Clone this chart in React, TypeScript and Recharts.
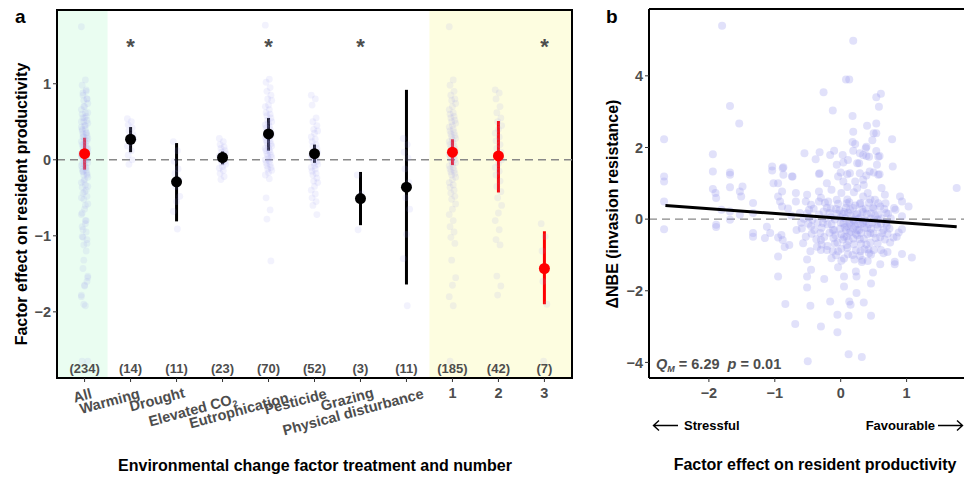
import React from "react";
import {
  ComposedChart,
  Scatter,
  XAxis,
  YAxis,
  ReferenceLine,
  ReferenceArea,
  ErrorBar,
} from "recharts";

// ---- panel a: effect of each factor on resident productivity ----
const factorNames = [
  "All",
  "Warming",
  "Drought",
  "Elevated CO2",
  "Eutrophication",
  "Pesticide",
  "Grazing",
  "Physical disturbance",
  "1",
  "2",
  "3",
];
const sampleSizes = [234, 14, 11, 23, 70, 52, 3, 11, 185, 42, 7];
const meanEffect = [0.08, 0.27, -0.29, 0.03, 0.34, 0.08, -0.51, -0.36, 0.1, 0.05, -1.43];
const ciLow = [-0.13, 0.1, -0.81, -0.06, 0.12, -0.04, -0.86, -1.64, -0.07, -0.43, -1.9];
const ciHigh = [0.29, 0.43, 0.22, 0.11, 0.55, 0.2, -0.16, 0.92, 0.27, 0.51, -0.94];
const significant = [false, true, false, false, true, false, true, false, false, false, true];

const warmingRaw = [0.54, 0.5, 0.46, 0.42, 0.38, 0.33, 0.3, 0.27, 0.22, 0.18, 0.12, 0.06, 0.0, -0.06];
const droughtRaw = [0.24, 0.12, -0.02, -0.12, -0.18, -0.26, -0.35, -0.48, -0.55, -0.68, -0.91];
const co2Raw = [
  0.28, 0.24, 0.2, 0.17, 0.15, 0.12, 0.1, 0.08, 0.06, 0.05, 0.04, 0.03, 0.02, 0.0, -0.02, -0.04,
  -0.06, -0.09, -0.11, -0.14, -0.18, -0.22, -0.26,
];
const eutroRaw = [
  1.77, 1.06, 1.02, 0.95, 0.9, 0.85, 0.8, 0.78, 0.72, 0.7, 0.66, 0.62, 0.6, 0.58, 0.55, 0.52, 0.5,
  0.48, 0.46, 0.44, 0.42, 0.4, 0.38, 0.36, 0.35, 0.33, 0.31, 0.3, 0.28, 0.26, 0.25, 0.23, 0.21, 0.2,
  0.18, 0.16, 0.15, 0.13, 0.12, 0.1, 0.08, 0.06, 0.05, 0.03, 0.01, 0.0, -0.02, -0.04, -0.06, -0.08,
  -0.1, -0.12, -0.14, -0.17, -0.2, -0.25, -0.5, -0.66, -0.78, -1.33,
];
const pesticideRaw = [
  0.85, 0.8, 0.72, 0.55, 0.5, 0.45, 0.4, 0.38, 0.35, 0.3, 0.27, 0.24, 0.2, 0.18, 0.15, 0.12, 0.1,
  0.08, 0.06, 0.05, 0.03, 0.02, 0.0, -0.02, -0.04, -0.06, -0.08, -0.1, -0.12, -0.15, -0.18, -0.2,
  -0.24, -0.28, -0.3, -0.35, -0.4, -0.45, -0.5, -0.55, -0.6, -0.72,
];
const grazingRaw = [-0.2, -0.45, -0.92];
const disturbanceRaw = [0.28, 0.2, 0.1, 0.02, -0.12, -0.3, -0.5, -0.65, -0.98, -1.3, -1.92];
const oneFactorRaw = [
  1.75, 1.05, 0.98, 0.9, 0.85, 0.8, 0.78, 0.74, 0.7, 0.66, 0.62, 0.6, 0.57, 0.55, 0.52, 0.5, 0.48,
  0.45, 0.43, 0.4, 0.38, 0.36, 0.34, 0.32, 0.3, 0.28, 0.26, 0.24, 0.22, 0.2, 0.18, 0.16, 0.14, 0.12,
  0.1, 0.09, 0.08, 0.06, 0.05, 0.04, 0.02, 0.0, -0.02, -0.04, -0.06, -0.08, -0.1, -0.12, -0.14,
  -0.16, -0.18, -0.2, -0.23, -0.26, -0.3, -0.33, -0.36, -0.4, -0.44, -0.48, -0.52, -0.58, -0.65,
  -0.72, -0.8, -0.88, -0.95, -1.02, -1.1, -1.32, -1.55, -1.65, -1.8, -1.92, -2.65,
];
const twoFactorRaw = [
  0.92, 0.88, 0.8, 0.7, 0.62, 0.55, 0.5, 0.45, 0.4, 0.35, 0.3, 0.25, 0.2, 0.15, 0.1, 0.05, 0.0,
  -0.05, -0.1, -0.15, -0.2, -0.28, -0.35, -0.42, -0.5, -0.6, -0.7, -0.8, -0.92, -1.05, -1.12, -1.53,
  -1.66, -1.78,
];
const threeFactorRaw = [-0.84, -1.01, -1.2, -1.43, -1.6, -1.9, -2.65];
const allRaw = [...oneFactorRaw, ...twoFactorRaw, ...threeFactorRaw];

// ---- panel b: factor effect vs change in invasion resistance ----
const nbeOuterPoints: [number, number][] = [
  [-1.8, 5.4], [0.19, 4.98], [0.08, 3.9], [0.13, 3.9], [-0.26, 3.54], [0.61, 3.5], [0.54, 3.4],
  [0.58, 3.14], [-1.68, 3.16], [-0.12, 3.03], [0.18, 2.88], [-1.54, 2.67], [0.4, 2.61], [0.54, 2.67],
  [0.19, 2.44], [0.5, 2.4], [0.54, 2.4], [-2.68, 2.23], [0.78, 2.23], [0.18, 2.15], [0.22, 2.1],
  [0.48, 2.2], [0.38, 1.98], [0.54, 1.9], [-1.94, 1.81], [-0.55, 1.84], [-0.32, 1.87], [-0.16, 1.79],
  [-0.1, 1.91], [0.03, 1.79], [0.19, 1.91], [0.29, 1.84], [0.39, 1.76], [0.59, 1.76], [-0.38, 1.67],
  [-0.06, 1.52], [0.04, 1.58], [0.11, 1.65], [0.28, 1.56], [0.79, 1.47], [-1.04, 1.47], [-1.04, 1.36],
  [-0.87, 1.45], [-0.87, 1.24], [-0.73, 1.19], [-1.94, 1.33], [-1.68, 1.3], [-1.68, 1.24],
  [-2.68, 1.19], [-2.68, 1.05], [-0.33, 1.26], [0.0, 1.3], [0.1, 1.25], [0.29, 1.28], [0.39, 1.22],
  [0.5, 1.3], [0.59, 1.25], [-2.68, 0.49], [-2.68, -0.28], [-1.94, 0.84], [-1.9, 0.73], [-1.89, 0.59],
  [-1.89, -0.16], [-1.89, -0.22], [-1.81, 0.26], [-1.68, 0.89], [-1.68, -0.02], [-1.68, 0.21],
  [-1.53, 0.77], [-1.49, 0.91], [-1.51, 0.63], [-1.53, 0.12], [-1.33, 0.45], [-1.33, 0.17],
  [-1.33, -0.49], [-1.33, -0.39], [-1.02, 1.0], [-0.95, 1.0], [-0.95, 0.63], [-0.92, 0.49],
  [-1.12, -0.21], [-1.07, -0.39], [-1.15, -0.53], [-0.88, 1.42], [-0.89, 0.77], [-0.89, 0.35],
  [-0.74, 1.19], [-0.68, 0.73], [-0.68, 0.49], [-0.51, 0.68], [-0.53, 0.49], [-0.48, 0.26],
  [-0.32, 1.28], [-0.33, 0.77], [-0.33, 0.49], [-0.21, 1.0], [-0.14, 0.82], [-0.19, 0.49],
  [-0.04, 1.19], [0.04, 1.05], [0.14, 1.28], [0.01, 0.73], [-0.06, 0.54], [0.09, 0.44], [0.34, 1.79],
  [0.39, 2.02], [0.25, 1.56], [0.34, 1.1], [0.25, 0.87], [0.34, 0.63], [0.41, 0.73], [0.43, 1.74],
  [0.57, 1.74], [0.55, 1.52], [0.57, 1.24], [0.44, 1.33], [0.62, 0.87], [0.67, 0.68], [0.68, 0.44],
  [0.52, 0.54], [0.9, 0.63], [0.93, 0.49], [1.03, 0.35], [0.83, 0.26], [1.76, 0.87],
  [-0.62, 0.17], [-0.48, 0.06], [-0.26, 0.21], [-0.06, 0.15], [0.14, 0.26], [0.34, 0.2], [0.52, 0.1],
  [0.72, 0.15], [0.93, 0.08], [-0.67, -0.3], [-0.53, -0.49], [-0.31, -0.39], [-0.12, -0.3],
  [0.09, -0.49], [0.25, -0.3], [0.45, -0.39], [0.65, -0.3], [0.85, -0.49], [-0.88, -0.58],
  [-0.78, -0.72], [-0.57, -0.67], [-0.36, -0.77], [-0.95, -0.51], [-0.9, -0.44], [-0.85, -0.78],
  [-0.95, -1.04], [-0.95, -1.6], [-0.51, -1.13], [-0.46, -0.9], [-0.45, -1.41], [-0.51, -1.6],
  [-0.51, -1.91], [-0.84, -2.37], [-0.46, -2.42], [-0.69, -2.93], [-0.3, -3.0], [-0.3, -0.58],
  [-0.3, -0.86], [-0.25, -1.67], [-0.14, -1.09], [-0.04, -1.34], [-0.04, -0.9], [-0.16, -2.3],
  [0.05, -1.6], [0.05, -1.88], [0.13, -2.3], [0.15, -2.39], [-0.05, -2.67], [0.12, -2.7],
  [0.24, -2.06], [0.24, -1.6], [0.23, -1.46], [0.35, -2.33], [0.46, -2.7], [0.46, -1.8], [0.49, -1.49],
  [0.33, -1.14], [0.43, -0.95], [0.5, -0.86], [0.6, -1.26], [0.65, -0.95], [0.71, -0.92],
  [0.82, -1.26], [0.82, -1.19], [0.93, -0.97], [1.08, -1.07], [0.8, -0.51], [0.88, -0.37],
  [0.93, -0.28], [0.75, -0.65], [-0.5, -3.97], [0.12, -3.77], [0.32, -3.85], [-0.05, -3.16],
];
const nbeCorePoints: [number, number][] = [
  [0.0, -0.1], [0.1, -0.2], [0.2, -0.05], [0.3, -0.15], [0.4, -0.25], [0.15, -0.35], [0.25, -0.45],
  [0.35, -0.55], [0.05, -0.5], [0.45, -0.65], [0.2, -0.7], [0.1, -0.8], [0.3, -0.9], [0.5, -0.4],
  [0.55, -0.15], [-0.1, -0.3], [-0.2, -0.15], [-0.25, -0.5], [-0.05, -0.65], [0.0, 0.05], [0.15, 0.1],
  [0.3, 0.05], [0.4, 0.15], [-0.15, 0.05], [-0.35, -0.1], [-0.4, -0.3], [0.6, -0.5], [0.7, -0.2],
  [0.62, 0.02], [0.08, 0.32], [0.22, 0.38], [0.38, 0.3], [-0.02, 0.25], [0.28, -0.3], [0.12, -0.6],
  [0.42, -0.85], [0.18, -1.0], [-0.12, -0.9], [0.32, -1.2], [0.05, -1.1], [-0.45, 0.4], [-0.3, 0.6],
  [-0.15, 0.3], [0.1, 0.55], [0.2, 0.75], [0.3, 0.45], [0.45, 0.55], [0.5, 0.3], [0.6, 0.35],
  [-0.6, -0.1], [-0.75, 0.1], [-0.8, 0.3], [-0.45, -0.2], [-0.2, -0.75], [0.1, 0.9], [0.22, 1.05],
  [0.35, 0.95], [0.05, 0.2], [0.25, 0.15], [-0.08, -0.45], [0.15, -0.15], [0.38, -0.05],
  [0.48, -0.1], [0.08, -0.3], [0.22, -0.2],
  [-0.24, 0.46], [-0.04, 0.43], [0.13, 0.47], [0.29, 0.42], [0.43, 0.46], [0.57, 0.44],
  [-0.41, 0.29], [-0.21, 0.32], [-0.07, 0.28], [0.19, 0.31], [0.33, 0.27], [0.49, 0.33], [0.66, 0.28],
  [0.81, 0.31], [-0.51, 0.16], [-0.33, 0.13], [-0.17, 0.17], [0.03, 0.14], [0.11, 0.18], [0.23, 0.12],
  [0.46, 0.16], [0.57, 0.13], [0.69, 0.17], [-0.56, 0.01], [-0.43, -0.02], [-0.24, 0.02], [-0.09, -0.01],
  [0.07, 0.02], [0.19, -0.02], [0.27, 0.01], [0.36, -0.03], [0.46, 0.02], [0.56, -0.01], [0.76, 0.02],
  [-0.49, -0.13], [-0.27, -0.11], [-0.14, -0.14], [0.04, -0.12], [0.13, -0.1], [0.26, -0.13],
  [0.34, -0.11], [0.43, -0.14], [0.61, -0.12], [0.69, -0.1], [-0.59, -0.26], [-0.29, -0.24],
  [-0.01, -0.27], [0.06, -0.23], [0.19, -0.26], [0.36, -0.24], [0.46, -0.27], [0.56, -0.23],
  [0.74, -0.26], [-0.44, -0.41], [-0.17, -0.38], [0.01, -0.42], [0.13, -0.39], [0.23, -0.41],
  [0.31, -0.38], [0.41, -0.42], [0.63, -0.39], [0.71, -0.41], [-0.37, -0.56], [-0.11, -0.53],
  [0.03, -0.57], [0.19, -0.54], [0.29, -0.56], [0.53, -0.53], [0.67, -0.57], [-0.29, -0.71],
  [-0.09, -0.68], [0.09, -0.72], [0.31, -0.69], [0.39, -0.71], [0.56, -0.68], [-0.21, -0.86],
  [0.01, -0.83], [0.23, -0.87], [0.36, -0.84], [0.61, -0.86], [-0.07, -1.01], [0.11, -0.98],
  [0.29, -1.02], [0.46, -0.99], [0.01, -1.16], [0.21, -1.13], [0.41, -1.17],
];
const fitX = [-2.66, 1.76];
const fitY = [0.38, -0.21];

const FONT = "'Liberation Sans', Arial, Helvetica, sans-serif";
const GREY = "#4d4d4d";
const POINT = "#9a9aee";

const rawByFactor = [
  allRaw, warmingRaw, droughtRaw, co2Raw, eutroRaw, pesticideRaw, grazingRaw, disturbanceRaw,
  oneFactorRaw, twoFactorRaw, threeFactorRaw,
];
const rawPoints = rawByFactor.flatMap((vals, i) => vals.map((v, k) => ({ x: i, y: v, k })));

const summaryRows = factorNames.map((name, i) => ({
  name,
  x: i,
  y: meanEffect[i],
  err: [meanEffect[i] - ciLow[i], ciHigh[i] - meanEffect[i]],
}));
const isNumberGroup = (i: number) => i === 0 || i >= 8;
const redRows = summaryRows.filter((r) => isNumberGroup(r.x));
const blackRows = summaryRows.filter((r) => !isNumberGroup(r.x));
const STAR_Y = 1.55;
const COUNT_Y = -2.74;
const starRows = summaryRows.filter((r) => significant[r.x]).map((r) => ({ x: r.x, y: STAR_Y }));
const countRows = summaryRows.map((r) => ({ x: r.x, y: COUNT_Y, n: sampleSizes[r.x] }));

const nbeRows = [...nbeOuterPoints, ...nbeCorePoints].map(([x, y]) => ({ x, y }));
const fitRows = fitX.map((x, i) => ({ x, y: fitY[i] }));

const minus = (v: number) => (v < 0 ? "\u2212" + Math.abs(v) : String(v));

const jitterPx = (k: number) => (((k * 5) % 9) - 4) * 0.8;

function RawDot(p: any) {
  return (
    <circle cx={p.cx + jitterPx(p.payload.k)} cy={p.cy} r={3.4} fill={POINT} fillOpacity={0.13} />
  );
}

function MeanDot(color: string) {
  return (p: any) => <circle cx={p.cx} cy={p.cy} r={5.5} fill={color} />;
}

function StarMark(p: any) {
  return (
    <text x={p.cx} y={p.cy + 12.5} textAnchor="middle" fontSize={22} fontWeight="bold" fill={GREY}>
      *
    </text>
  );
}

function CountMark(p: any) {
  return (
    <text x={p.cx} y={p.cy + 4.5} textAnchor="middle" fontSize={13} fontWeight="bold" fill={GREY}>
      ({p.payload.n})
    </text>
  );
}

function NbeDot(p: any) {
  return <circle cx={p.cx} cy={p.cy} r={4} fill={POINT} fillOpacity={0.3} />;
}

// right end of each slanted label relative to its tick, and its baseline below the tick text origin
const slantShift: [number, number][] = [
  [8, 14], [10, 14], [9, 13], [15, 19], [21, 18], [13, 14], [14, 13], [18, 14],
];

function FactorTick(p: any) {
  const i = p.payload.value as number;
  const name = factorNames[i];
  const style = { fontSize: 14.5, fontWeight: "bold" as const, fill: GREY };
  if (i >= 8) {
    return (
      <text x={p.x} y={p.y + 14} textAnchor="middle" {...style}>
        {name}
      </text>
    );
  }
  const [dx, dy] = slantShift[i];
  const ax = p.x + dx;
  const ay = p.y + dy;
  return (
    <text x={ax} y={ay} textAnchor="end" transform={`rotate(-15, ${ax}, ${ay})`} {...style}>
      {name === "Elevated CO2" ? (
        <>
          Elevated CO
          <tspan fontSize={9} dy={3}>
            2
          </tspan>
        </>
      ) : (
        name
      )}
    </text>
  );
}

function NumberTick(p: any) {
  return (
    <text x={p.x} y={p.y + 14} textAnchor="middle" fontSize={14.5} fontWeight="bold" fill={GREY}>
      {minus(p.payload.value)}
    </text>
  );
}

const yTickStyle = { fill: GREY, fontSize: 14.5, fontWeight: "bold", fontFamily: FONT };

function PanelA() {
  return (
    <ComposedChart width={590} height={477} margin={{ top: 10, right: 18, bottom: 59, left: 0 }}>
      <XAxis
        type="number"
        dataKey="x"
        domain={[-0.6, 10.6]}
        ticks={[0, 1, 2, 3, 4, 5, 6, 7, 8, 9, 10]}
        interval={0}
        allowDataOverflow
        height={40}
        axisLine={{ stroke: "#000", strokeWidth: 2 }}
        tickLine={{ stroke: "#333" }}
        tickSize={4}
        tickMargin={2}
        tick={FactorTick}
      />
      <YAxis
        type="number"
        dataKey="y"
        domain={[-2.87, 1.97]}
        ticks={[-2, -1, 0, 1]}
        allowDataOverflow
        width={57}
        axisLine={{ stroke: "#000", strokeWidth: 2 }}
        tickLine={{ stroke: "#333" }}
        tickSize={4}
        tickMargin={2}
        tick={yTickStyle}
        tickFormatter={minus}
      />
      <ReferenceArea x1={-0.6} x2={0.5} y1={-2.87} y2={1.97} fill="#eafdf1" fillOpacity={1} stroke="none" />
      <ReferenceArea x1={7.5} x2={10.6} y1={-2.87} y2={1.97} fill="#fdfde0" fillOpacity={1} stroke="none" />
      <ReferenceLine y={0} stroke="#888" strokeWidth={1.5} strokeDasharray="8 5" />
      <Scatter data={rawPoints} shape={RawDot} isAnimationActive={false} />
      <Scatter data={blackRows} shape={MeanDot("#000")} isAnimationActive={false}>
        <ErrorBar dataKey="err" direction="y" width={0} stroke="#000" strokeWidth={3} isAnimationActive={false} />
      </Scatter>
      <Scatter data={redRows} shape={MeanDot("#ff0000")} isAnimationActive={false}>
        <ErrorBar dataKey="err" direction="y" width={0} stroke="#ff0000" strokeWidth={3} isAnimationActive={false} />
      </Scatter>
      <Scatter data={starRows} shape={StarMark} isAnimationActive={false} />
      <Scatter data={countRows} shape={CountMark} isAnimationActive={false} />
      <ReferenceArea x1={-0.6} x2={10.6} y1={-2.87} y2={1.97} fill="none" stroke="#000" strokeWidth={2} />
    </ComposedChart>
  );
}

function PanelB() {
  return (
    <ComposedChart width={374} height={477} margin={{ top: 9, right: 0, bottom: 59, left: 0 }}>
      <XAxis
        type="number"
        dataKey="x"
        domain={[-2.909, 1.871]}
        ticks={[-2, -1, 0, 1]}
        allowDataOverflow
        height={40}
        axisLine={{ stroke: "#000", strokeWidth: 2 }}
        tickLine={{ stroke: "#333" }}
        tickSize={4}
        tickMargin={2}
        tick={NumberTick}
      />
      <YAxis
        type="number"
        dataKey="y"
        domain={[-4.435, 5.866]}
        ticks={[-4, -2, 0, 2, 4]}
        allowDataOverflow
        width={59}
        axisLine={{ stroke: "#000", strokeWidth: 2 }}
        tickLine={{ stroke: "#333" }}
        tickSize={4}
        tickMargin={2}
        tick={yTickStyle}
        tickFormatter={minus}
      />
      <ReferenceLine y={0} stroke="#888" strokeWidth={1.2} strokeDasharray="8 5" />
      <Scatter data={nbeRows} shape={NbeDot} isAnimationActive={false} />
      <Scatter
        data={fitRows}
        line={{ stroke: "#000", strokeWidth: 3 }}
        shape={() => <g />}
        isAnimationActive={false}
      />
      <ReferenceLine y={5.866} stroke="#000" strokeWidth={2} />
    </ComposedChart>
  );
}

function Overlay() {
  const arrow = { stroke: "#000", strokeWidth: 1.4, fill: "none" };
  return (
    <svg
      width={964}
      height={477}
      style={{ position: "absolute", left: 0, top: 0, pointerEvents: "none", fontFamily: FONT }}
    >
      <text x={15} y={23} fontSize={19} fontWeight="bold">a</text>
      <text x={606} y={23} fontSize={19} fontWeight="bold">b</text>
      <text transform="rotate(-90)" x={-204} y={27} textAnchor="middle" fontSize={16} fontWeight="bold">
        Factor effect on resident productivity
      </text>
      <text x={315} y={471} textAnchor="middle" fontSize={16} fontWeight="bold">
        Environmental change factor treatment and number
      </text>
      <text transform="rotate(-90)" x={-204} y={618} textAnchor="middle" fontSize={16} fontWeight="bold">
        {"\u0394NBE (invasion resistance)"}
      </text>
      <text x={815} y={470} textAnchor="middle" fontSize={16} fontWeight="bold">
        Factor effect on resident productivity
      </text>
      <path d="M678,425.5 L653.5,425.5 M659,420.5 L653.5,425.5 L659,430.5" {...arrow} />
      <text x={684} y={430} fontSize={13} fontWeight="bold">Stressful</text>
      <text x={935} y={430} textAnchor="end" fontSize={13} fontWeight="bold">Favourable</text>
      <path d="M938,425.5 L962.5,425.5 M957,420.5 L962.5,425.5 L957,430.5" {...arrow} />
      <text x={656} y={369} fontSize={14.5} fontWeight="bold" fill={GREY} xmlSpace="preserve">
        <tspan fontStyle="italic">Q</tspan>
        <tspan fontStyle="italic" fontSize={9} dy={3}>M</tspan>
        <tspan dy={-3}>{" = 6.29  "}</tspan>
        <tspan fontStyle="italic">p</tspan>
        <tspan>{" = 0.01"}</tspan>
      </text>
    </svg>
  );
}

export default function App() {
  return (
    <div
      style={{
        position: "absolute",
        left: 0,
        top: 0,
        width: 964,
        height: 477,
        background: "#fff",
        fontFamily: FONT,
        overflow: "hidden",
      }}
    >
      <div style={{ position: "absolute", left: 0, top: 0 }}>
        <PanelA />
      </div>
      <div style={{ position: "absolute", left: 590, top: 0 }}>
        <PanelB />
      </div>
      <Overlay />
    </div>
  );
}
